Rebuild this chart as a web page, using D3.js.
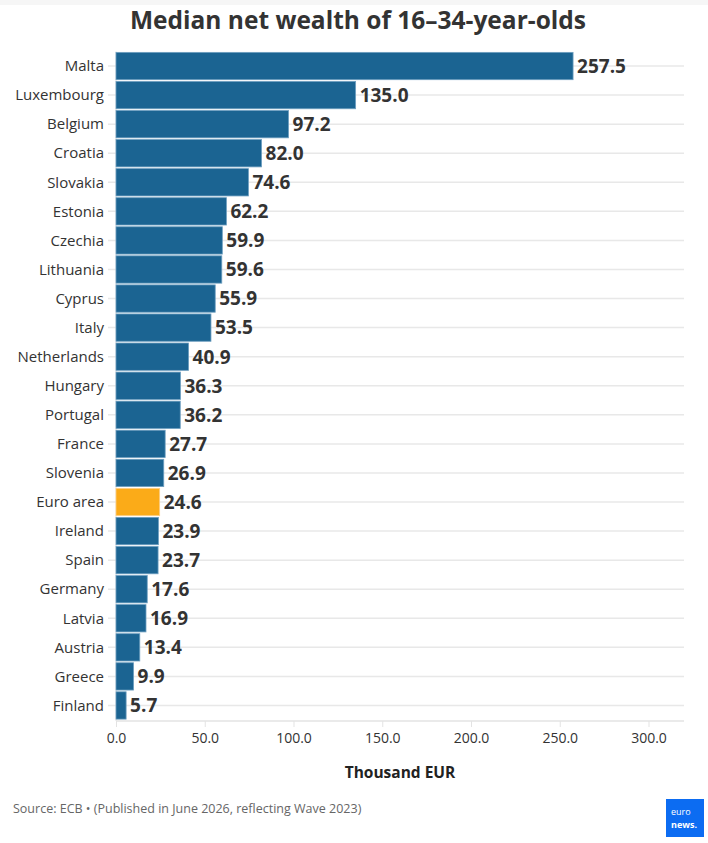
<!DOCTYPE html>
<html><head><meta charset="utf-8">
<script src="https://cdn.jsdelivr.net/npm/d3@7"></script>
<style>
html,body{margin:0;padding:0;background:#fff;}
svg{display:block;font-family:"Open Sans",sans-serif;}
</style></head><body>
<svg id="c" width="708" height="843"></svg>
<script>
const categories = ["Malta","Luxembourg","Belgium","Croatia","Slovakia","Estonia","Czechia","Lithuania","Cyprus","Italy","Netherlands","Hungary","Portugal","France","Slovenia","Euro area","Ireland","Spain","Germany","Latvia","Austria","Greece","Finland"];
const values = [257.5,135.0,97.2,82.0,74.6,62.2,59.9,59.6,55.9,53.5,40.9,36.3,36.2,27.7,26.9,24.6,23.9,23.7,17.6,16.9,13.4,9.9,5.7];
const highlight = "Euro area";
const xTicks = [0,50,100,150,200,250,300];
const title = "Median net wealth of 16–34-year-olds";
const xTitle = "Thousand EUR";
const source = "Source: ECB • (Published in June 2026, reflecting Wave 2023)";

const svg = d3.select("#c");
const W = 708, H = 843;
const m = {left:116, right:24, top:51.5, bottom:123};
const x = d3.scaleLinear().domain([0,320]).range([m.left, W - m.right]);
const y = d3.scaleBand().domain(categories).range([m.top, H - m.bottom]).paddingInner(0.06).paddingOuter(0.03);

svg.append("rect").attr("x",0).attr("y",0).attr("width",W).attr("height",5).attr("fill","#f6f6f6");

svg.append("text").attr("x",W/2 + 4).attr("y",29).attr("text-anchor","middle")
  .attr("font-size",24.5).attr("font-weight",700).attr("fill","#333").text(title);

svg.append("g").selectAll("line").data(categories).join("line")
  .attr("x1",m.left-8).attr("x2",W-m.right)
  .attr("y1",d=>y(d)+y.bandwidth()/2).attr("y2",d=>y(d)+y.bandwidth()/2)
  .attr("stroke","#e8e8e8").attr("stroke-width",1.5);

const yb = H - m.bottom + 1;
svg.append("line").attr("x1",m.left).attr("x2",W-m.right).attr("y1",yb).attr("y2",yb)
  .attr("stroke","#e3e3e3").attr("stroke-width",1.5);
svg.append("line").attr("x1",m.left).attr("x2",m.left).attr("y1",m.top).attr("y2",yb).attr("stroke","#e3e3e3");

const xa = svg.append("g").attr("transform",`translate(0,${yb})`)
  .call(d3.axisBottom(x).tickValues(xTicks).tickFormat(d3.format(".1f")).tickSize(6).tickPadding(6));
xa.select(".domain").remove();
xa.selectAll("line").attr("stroke","#e3e3e3");
xa.selectAll("text").attr("font-size",14).attr("fill","#333").attr("font-family","'Open Sans',sans-serif");

svg.append("g").selectAll("text").data(categories).join("text")
  .attr("x",m.left-12).attr("y",d=>y(d)+y.bandwidth()/2).attr("dy","0.35em")
  .attr("text-anchor","end").attr("font-size",15).attr("fill","#333").text(d=>d);

const data = categories.map((c,i)=>({c, v:values[i]}));
svg.append("g").selectAll("rect").data(data).join("rect")
  .attr("x",x(0)).attr("y",d=>y(d.c)).attr("height",y.bandwidth())
  .attr("width",d=>x(d.v)-x(0))
  .attr("fill",d=>d.c===highlight?"#fbab18":"#1b6492")
  .attr("stroke",d=>d.c===highlight?"#fdd088":"#6e9fc0").attr("stroke-width",0.8);

svg.append("g").selectAll("text").data(data).join("text")
  .attr("x",d=>x(d.v)+4).attr("y",d=>y(d.c)+y.bandwidth()/2).attr("dy","0.36em")
  .attr("font-size",19).attr("font-weight",700).attr("fill","#333")
  .text(d=>d3.format(".1f")(d.v));

svg.append("text").attr("x",400).attr("y",778).attr("text-anchor","middle")
  .attr("font-size",15.5).attr("font-weight",700).attr("fill","#222").text(xTitle);

svg.append("text").attr("x",13).attr("y",813).attr("font-size",12.5).attr("fill","#666").text(source);

const lg = svg.append("g").attr("transform","translate(666,799)");
lg.append("rect").attr("width",38).attr("height",38).attr("fill","#0c6cf2");
lg.append("text").attr("x",5).attr("y",16).attr("font-size",9).attr("fill","#fff").attr("font-family","'Open Sans',sans-serif").text("euro");
lg.append("text").attr("x",5).attr("y",29).attr("font-size",9).attr("font-weight",700).attr("fill","#fff").attr("font-family","'Open Sans',sans-serif").text("news.");
</script></body></html>
